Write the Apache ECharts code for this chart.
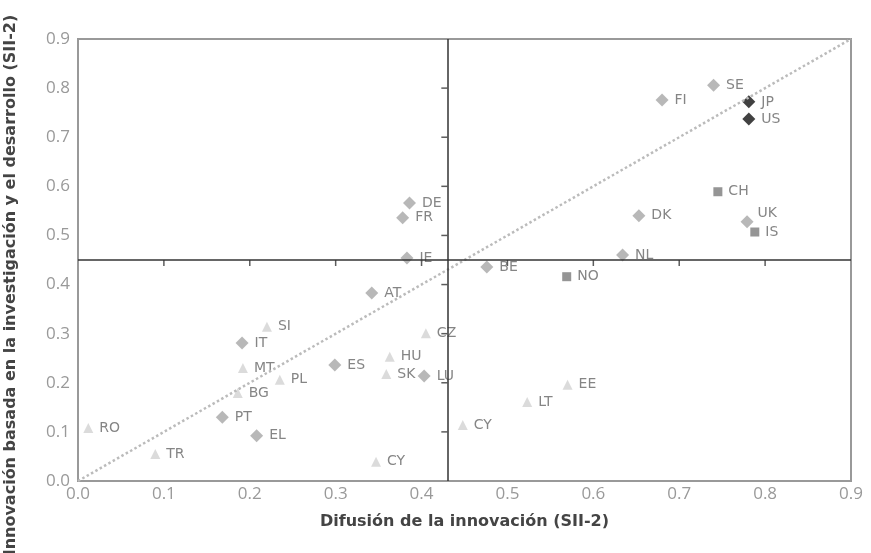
<!DOCTYPE html>
<html>
<head>
<meta charset="utf-8">
<script src="https://cdn.jsdelivr.net/npm/echarts@6/dist/echarts.min.js"></script>
<style>
  html, body { margin: 0; padding: 0; background: #fff; }
  #chart { width: 871px; height: 553px; }
</style>
</head>
<body>
<div id="chart"></div>
<script>
  // UE-15 (rombos grises)
  var euCodes = ['SE', 'FI', 'DK', 'UK', 'NL', 'BE', 'DE', 'FR', 'IE', 'AT', 'IT', 'ES', 'LU', 'PT', 'EL'];
  var euX = [0.740, 0.680, 0.653, 0.779, 0.634, 0.476, 0.386, 0.378, 0.383, 0.342, 0.191, 0.299, 0.403, 0.168, 0.208];
  var euY = [0.806, 0.776, 0.540, 0.528, 0.460, 0.436, 0.566, 0.536, 0.454, 0.383, 0.281, 0.236, 0.214, 0.130, 0.092];

  // nuevos miembros y candidatos (triangulos)
  var newCodes = ['SI', 'MT', 'PL', 'BG', 'RO', 'TR', 'CZ', 'HU', 'SK', 'CY', 'CY', 'LT', 'EE'];
  var newX = [0.220, 0.192, 0.235, 0.186, 0.012, 0.090, 0.405, 0.363, 0.359, 0.347, 0.448, 0.523, 0.570];
  var newY = [0.314, 0.230, 0.206, 0.179, 0.108, 0.055, 0.301, 0.253, 0.218, 0.039, 0.114, 0.161, 0.196];

  // otros europeos (cuadrados)
  var othCodes = ['CH', 'IS', 'NO'];
  var othX = [0.745, 0.788, 0.569];
  var othY = [0.589, 0.507, 0.416];

  // JP y US (rombos negros)
  var refCodes = ['JP', 'US'];
  var refX = [0.781, 0.781];
  var refY = [0.772, 0.737];

  var axisTicks = [0.0, 0.1, 0.2, 0.3, 0.4, 0.5, 0.6, 0.7, 0.8, 0.9];
  var crossX = 0.43;
  var crossY = 0.45;
  var diagonal = [[0, 0], [0.9, 0.9]];

  var chartDom = document.getElementById('chart');
  var chart = echarts.init(chartDom);

  function toPoints(codes, xs, ys) {
    var out = [];
    for (var i = 0; i < codes.length; i++) {
      out.push({ name: codes[i], value: [xs[i], ys[i]] });
    }
    return out;
  }

  var labelStyle = {
    show: true,
    position: 'right',
    distance: 6,
    formatter: '{b}',
    color: '#666',
    fontSize: 14,
    fontFamily: 'DejaVu Sans'
  };

  var euPoints = toPoints(euCodes, euX, euY);
  euPoints.forEach(function (p) {
    if (p.name === 'UK') p.label = { offset: [-2, -8] };
  });

  // marcas pequenas sobre las lineas de cruce
  var vTicks = [], hTicks = [];
  axisTicks.forEach(function (v) {
    if (v > 0 && v < 0.9) {
      vTicks.push([crossX, v]);
      hTicks.push([v, crossY]);
    }
  });

  var option = {
    animation: false,
    backgroundColor: '#fff',
    grid: {
      left: 78, right: 20, top: 39, bottom: 72,
      outerBoundsMode: 'none',
      containLabel: false,
      show: true, borderColor: '#999', borderWidth: 2
    },
    xAxis: {
      type: 'value', min: 0, max: 0.9, interval: 0.1,
      name: 'Difusión de la innovación (SII-2)',
      nameLocation: 'middle', nameGap: 33,
      nameTextStyle: { fontWeight: 'bold', fontSize: 16, color: '#444', fontFamily: 'DejaVu Sans' },
      axisLine: { lineStyle: { color: '#999', width: 2 } },
      axisTick: { show: false },
      splitLine: { show: false },
      axisLabel: {
        color: '#999', fontSize: 17, margin: 5, fontFamily: 'Open Sans',
        formatter: function (v) { return v.toFixed(1); }
      }
    },
    yAxis: {
      type: 'value', min: 0, max: 0.9, interval: 0.1,
      name: 'Innovación basada en la investigación y el desarrollo (SII-2)',
      nameLocation: 'middle', nameGap: 59,
      nameTextStyle: {
        fontWeight: 'bold', fontSize: 16, color: '#444', fontFamily: 'DejaVu Sans',
        padding: [0, 50, 0, 0]
      },
      axisLine: { lineStyle: { color: '#999', width: 2 } },
      axisTick: { show: false },
      splitLine: { show: false },
      axisLabel: {
        color: '#999', fontSize: 17, margin: 8, fontFamily: 'Open Sans',
        formatter: function (v) { return v.toFixed(1); }
      }
    },
    series: [
      {
        type: 'line',
        data: diagonal,
        symbol: 'none',
        silent: true,
        lineStyle: { color: '#bbb', width: 2.5, type: 'dotted' },
        markLine: {
          silent: true,
          symbol: 'none',
          label: { show: false },
          lineStyle: { color: '#333', width: 1.5, type: 'solid' },
          data: [{ xAxis: crossX }, { yAxis: crossY }]
        }
      },
      {
        type: 'scatter', data: vTicks, silent: true,
        symbol: 'rect', symbolSize: [6, 1.5], symbolOffset: [-3, 0],
        itemStyle: { color: '#333' }
      },
      {
        type: 'scatter', data: hTicks, silent: true,
        symbol: 'rect', symbolSize: [1.5, 6], symbolOffset: [0, 3],
        itemStyle: { color: '#333' }
      },
      {
        type: 'scatter', name: 'nuevos',
        data: toPoints(newCodes, newX, newY),
        symbol: 'triangle', symbolSize: 10,
        itemStyle: { color: '#d2d2d2' },
        label: labelStyle
      },
      {
        type: 'scatter', name: 'UE-15',
        data: euPoints,
        symbol: 'diamond', symbolSize: 13,
        itemStyle: { color: '#a6a6a6' },
        label: labelStyle
      },
      {
        type: 'scatter', name: 'otros',
        data: toPoints(othCodes, othX, othY),
        symbol: 'rect', symbolSize: 9,
        itemStyle: { color: '#7a7a7a' },
        label: labelStyle
      },
      {
        type: 'scatter', name: 'JP-US',
        data: toPoints(refCodes, refX, refY),
        symbol: 'diamond', symbolSize: 13,
        itemStyle: { color: '#111' },
        label: labelStyle
      }
    ]
  };

  chart.setOption(option);
</script>
</body>
</html>
